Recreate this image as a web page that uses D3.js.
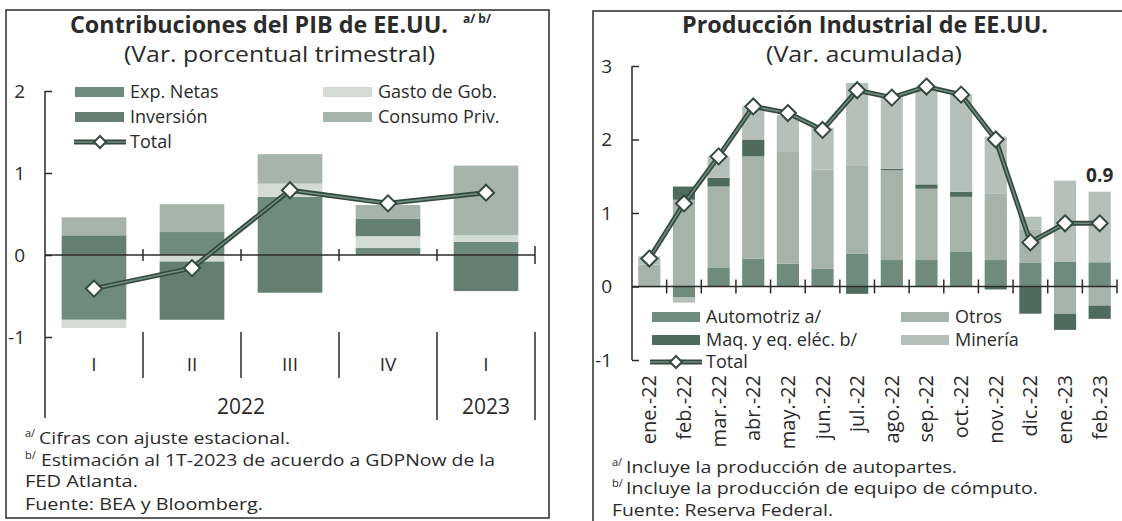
<!DOCTYPE html>
<html>
<head>
<meta charset="utf-8">
<script src="https://cdn.jsdelivr.net/npm/d3@7"></script>
<style>
  body { margin: 0; background: #ffffff; }
  svg text { font-family: "Open Sans", "DejaVu Sans", sans-serif; fill: #2b2b2b; }
</style>
</head>
<body>
<div id="chart"></div>
<script>
// ---- datos: contribuciones del PIB (var. % trimestral)
var quarters = ["I", "II", "III", "IV", "I"];
var years = ["2022", "2023"];
var expNetas = [-0.79, 0.28, 0.71, 0.085, 0.16];
var gastoGob = [-0.10, -0.08, 0.16, 0.145, 0.08];
var inversion = [0.24, -0.71, -0.46, 0.21, -0.44];
var consumoPriv = [0.22, 0.34, 0.36, 0.17, 0.85];
var totalPib = [-0.41, -0.16, 0.79, 0.63, 0.76];
var pibTicks = [-1, 0, 1, 2];

// ---- datos: produccion industrial (var. acumulada)
var months = ["ene.-22", "feb.-22", "mar.-22", "abr.-22", "may.-22", "jun.-22", "jul.-22",
              "ago.-22", "sep.-22", "oct.-22", "nov.-22", "dic.-22", "ene.-23", "feb.-23"];
var automotriz = [-0.01, -0.15, 0.26, 0.38, 0.31, 0.24, 0.45, 0.36, 0.36, 0.47, 0.36, 0.32, 0.34, 0.33];
var otros      = [0.30, 1.18, 1.10, 1.39, 1.52, 1.35, 1.20, 1.22, 0.97, 0.75, 0.90, 0.45, -0.37, -0.26];
var maqElec    = [0.00, 0.18, 0.12, 0.23, 0.00, 0.00, -0.10, 0.02, 0.06, 0.07, -0.04, -0.37, -0.22, -0.18];
var mineria    = [0.11, -0.07, 0.29, 0.45, 0.50, 0.57, 1.12, 0.97, 1.32, 1.32, 0.78, 0.18, 1.10, 0.96];
var totalIp    = [0.38, 1.13, 1.77, 2.45, 2.36, 2.13, 2.67, 2.57, 2.72, 2.61, 2.00, 0.60, 0.86, 0.86];
var ipTicks = [-1, 0, 1, 2, 3];
var lastLabel = "0.9";

var W = 1122, H = 521;
var ink = "#2b2b2b";
var lineDark = "#34493f", lineMid = "#6f8d7e";

var svg = d3.select("#chart").append("svg")
    .attr("width", W).attr("height", H);

// helper for plain text
function txt(g, x, y, s, size, opts) {
    opts = opts || {};
    var t = g.append("text")
        .attr("x", x).attr("y", y)
        .attr("font-size", size)
        .attr("text-anchor", opts.anchor || "start")
        .attr("font-weight", opts.weight || 400)
        .text(s);
    if (opts.len) t.attr("textLength", opts.len).attr("lengthAdjust", "spacingAndGlyphs");
    return t;
}

function diamond(g, cx, cy, r) {
    g.append("path")
        .attr("d", "M" + cx + "," + (cy - r) + "L" + (cx + r) + "," + cy + "L" + cx + "," + (cy + r) + "L" + (cx - r) + "," + cy + "Z")
        .attr("fill", "#ffffff").attr("stroke", lineDark).attr("stroke-width", 2);
}

function totalLine(g, pts) {
    var line = d3.line().x(d => d[0]).y(d => d[1]);
    g.append("path").attr("d", line(pts)).attr("fill", "none")
        .attr("stroke", lineDark).attr("stroke-width", 5).attr("stroke-linejoin", "round");
    g.append("path").attr("d", line(pts)).attr("fill", "none")
        .attr("stroke", lineMid).attr("stroke-width", 1.6).attr("stroke-linejoin", "round");
}

// legend sample: line with one diamond in the middle
function totalKey(g, x1, x2, y) {
    totalLine(g, [[x1, y], [x2, y]]);
    diamond(g, (x1 + x2) / 2, y, 6);
}

// ================= LEFT PANEL =================
var left = svg.append("g");
left.append("rect").attr("x", 6).attr("y", 10).attr("width", 543).attr("height", 508)
    .attr("fill", "none").attr("stroke", ink).attr("stroke-width", 1.5);

txt(left, 70, 33, "Contribuciones del PIB de EE.UU.", 24, {weight: 700, len: 378});
txt(left, 463, 23, "a/ b/", 12, {weight: 700});
txt(left, 124, 62, "(Var. porcentual trimestral)", 21, {len: 311});

var pibKeys = ["exp", "gasto", "inv", "cons"];
var pibColors = {exp: "#6f8b7d", gasto: "#d3dbd5", inv: "#647f72", cons: "#a7b4ac"};
var pibRows = quarters.map((q, i) => ({exp: expNetas[i], gasto: gastoGob[i], inv: inversion[i], cons: consumoPriv[i]}));
var pibSeries = d3.stack().keys(pibKeys).offset(d3.stackOffsetDiverging)(pibRows);

var xL = d3.scaleBand().domain(d3.range(quarters.length)).range([45, 535]);
var yL = d3.scaleLinear().domain([-1, 2]).range([337, 91]);
var barL = xL.bandwidth() * 0.66;

left.selectAll("g.serie").data(pibSeries).join("g")
    .attr("fill", d => pibColors[d.key])
    .selectAll("rect").data(d => d).join("rect")
    .attr("x", (d, i) => xL(i) + (xL.bandwidth() - barL) / 2)
    .attr("width", barL)
    .attr("y", d => yL(Math.max(d[0], d[1])))
    .attr("height", d => Math.abs(yL(d[0]) - yL(d[1])));

// y axis
var axL = left.append("g").attr("transform", "translate(45,0)")
    .call(d3.axisLeft(yL).tickValues(pibTicks).tickSize(-7).tickPadding(20).tickFormat(d => String(d)));
axL.select(".domain").remove();
axL.selectAll("line").attr("stroke", ink).attr("stroke-width", 1.5);
axL.selectAll("text").attr("font-size", 19).attr("fill", ink).attr("font-family", "Open Sans");
left.append("line").attr("x1", 45).attr("x2", 45).attr("y1", 91).attr("y2", 418)
    .attr("stroke", ink).attr("stroke-width", 1.5);

// zero line with ticks
left.append("line").attr("x1", 45).attr("x2", 535).attr("y1", yL(0)).attr("y2", yL(0))
    .attr("stroke", ink).attr("stroke-width", 1.5);
left.selectAll("line.zt").data(d3.range(1, quarters.length + 1)).join("line")
    .attr("x1", i => xL.step() * i + 45).attr("x2", i => xL.step() * i + 45)
    .attr("y1", i => yL(0) - (i === quarters.length ? 9 : 6))
    .attr("y2", i => yL(0) + (i === quarters.length ? 9 : 6))
    .attr("stroke", ink).attr("stroke-width", 1.5);

// category separators and labels
left.selectAll("line.sep").data(d3.range(1, quarters.length + 1)).join("line")
    .attr("x1", i => xL.step() * i + 45).attr("x2", i => xL.step() * i + 45)
    .attr("y1", 332).attr("y2", i => i >= 4 ? 420 : 378)
    .attr("stroke", ink).attr("stroke-width", 1.5);
quarters.forEach((q, i) => txt(left, xL(i) + xL.bandwidth() / 2, 371, q, 19, {anchor: "middle"}));
txt(left, (xL(0) + xL(3) + xL.bandwidth()) / 2, 414, years[0], 21, {anchor: "middle"});
txt(left, xL(4) + xL.bandwidth() / 2, 414, years[1], 21, {anchor: "middle"});

var ptsL = totalPib.map((v, i) => [xL(i) + xL.bandwidth() / 2, yL(v)]);
totalLine(left, ptsL);
ptsL.forEach(p => diamond(left, p[0], p[1], 8));

// legend
var legL = [
    {k: "exp", label: "Exp. Netas", x: 75, y: 92},
    {k: "inv", label: "Inversión", x: 75, y: 117},
    {k: "gasto", label: "Gasto de Gob.", x: 323, y: 92},
    {k: "cons", label: "Consumo Priv.", x: 323, y: 117}
];
legL.forEach(d => {
    left.append("rect").attr("x", d.x).attr("y", d.y - 5).attr("width", 49).attr("height", 10)
        .attr("fill", pibColors[d.k]);
    txt(left, d.x + 55, d.y + 6, d.label, 18);
});
totalKey(left, 74, 126, 142);
txt(left, 130, 148, "Total", 18);

// footnotes
txt(left, 25, 437, "a/", 11);
txt(left, 39, 444, "Cifras con ajuste estacional.", 17, {len: 251});
txt(left, 25, 459, "b/", 11);
txt(left, 41, 466, "Estimación al 1T-2023 de acuerdo a GDPNow de la", 17, {len: 454});
txt(left, 25, 487, "FED Atlanta.", 17, {len: 113});
txt(left, 25, 510, "Fuente: BEA y Bloomberg.", 17, {len: 238});

// ================= RIGHT PANEL =================
var right = svg.append("g");
right.append("rect").attr("x", 593).attr("y", 11).attr("width", 540).attr("height", 520)
    .attr("fill", "none").attr("stroke", ink).attr("stroke-width", 1.5);

txt(right, 682, 33, "Producción Industrial de EE.UU.", 24, {weight: 700, len: 366});
txt(right, 766, 62, "(Var. acumulada)", 21, {len: 196});

var ipKeys = ["auto", "otros", "maq", "min"];
var ipColors = {auto: "#6f8b7d", otros: "#a6b3ab", maq: "#4f6b5e", min: "#b6c0ba"};
var ipRows = months.map((m, i) => ({auto: automotriz[i], otros: otros[i], maq: maqElec[i], min: mineria[i]}));
var ipSeries = d3.stack().keys(ipKeys).offset(d3.stackOffsetDiverging)(ipRows);

var xR = d3.scaleBand().domain(d3.range(months.length)).range([632, 1117]);
var yR = d3.scaleLinear().domain([-1, 3]).range([360, 66]);
var barR = xR.bandwidth() * 0.64;

right.selectAll("g.serie").data(ipSeries).join("g")
    .attr("fill", d => ipColors[d.key])
    .selectAll("rect").data(d => d).join("rect")
    .attr("x", (d, i) => xR(i) + (xR.bandwidth() - barR) / 2)
    .attr("width", barR)
    .attr("y", d => yR(Math.max(d[0], d[1])))
    .attr("height", d => Math.abs(yR(d[0]) - yR(d[1])));

var axR = right.append("g").attr("transform", "translate(632,0)")
    .call(d3.axisLeft(yR).tickValues(ipTicks).tickSize(-7).tickPadding(20).tickFormat(d => String(d)));
axR.select(".domain").remove();
axR.selectAll("line").attr("stroke", ink).attr("stroke-width", 1.5);
axR.selectAll("text").attr("font-size", 19).attr("fill", ink).attr("font-family", "Open Sans");
right.append("line").attr("x1", 632).attr("x2", 632).attr("y1", yR(3)).attr("y2", yR(-1))
    .attr("stroke", ink).attr("stroke-width", 1.5);

right.append("line").attr("x1", 632).attr("x2", 1117).attr("y1", yR(0)).attr("y2", yR(0))
    .attr("stroke", ink).attr("stroke-width", 1.5);
right.selectAll("line.zt").data(d3.range(1, months.length + 1)).join("line")
    .attr("x1", i => 632 + xR.step() * i).attr("x2", i => 632 + xR.step() * i)
    .attr("y1", yR(0) - 7).attr("y2", yR(0) + 7)
    .attr("stroke", ink).attr("stroke-width", 1.5);

months.forEach((m, i) => {
    var cx = xR(i) + xR.bandwidth() / 2 + 7;
    right.append("text")
        .attr("transform", "translate(" + cx + ",375) rotate(-90)")
        .attr("text-anchor", "end").attr("font-size", 20).text(m);
});

var ptsR = totalIp.map((v, i) => [xR(i) + xR.bandwidth() / 2, yR(v)]);
totalLine(right, ptsR);
ptsR.forEach(p => diamond(right, p[0], p[1], 8));
txt(right, xR(13) + xR.bandwidth() / 2, 182, lastLabel, 19, {anchor: "middle", weight: 700});

var legR = [
    {k: "auto", label: "Automotriz a/", x: 652, y: 317},
    {k: "maq", label: "Maq. y eq. eléc. b/", x: 652, y: 340},
    {k: "otros", label: "Otros", x: 901, y: 317},
    {k: "min", label: "Minería", x: 901, y: 340}
];
legR.forEach(d => {
    right.append("rect").attr("x", d.x).attr("y", d.y - 5).attr("width", 48).attr("height", 10)
        .attr("fill", ipColors[d.k]);
    txt(right, d.x + 54, d.y + 6, d.label, 18);
});
totalKey(right, 650, 702, 362);
txt(right, 706, 368, "Total", 18);

txt(right, 612, 466, "a/", 11);
txt(right, 626, 473, "Incluye la producción de autopartes.", 17, {len: 331});
txt(right, 612, 487, "b/", 11);
txt(right, 626, 494, "Incluye la producción de equipo de cómputo.", 17, {len: 412});
txt(right, 612, 516, "Fuente: Reserva Federal.", 17, {len: 221});
</script>
</body>
</html>
